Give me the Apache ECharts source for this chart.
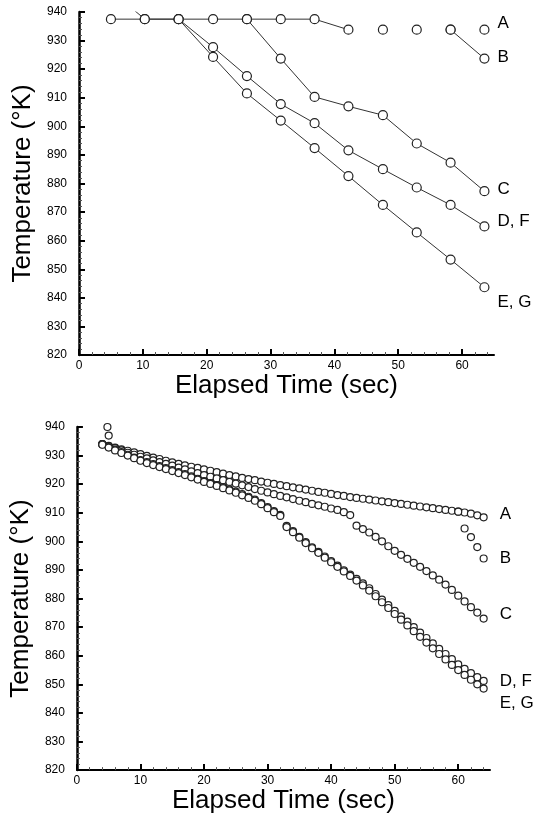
<!DOCTYPE html>
<html>
<head>
<meta charset="utf-8">
<script src="https://cdn.jsdelivr.net/npm/echarts@6/dist/echarts.min.js"></script>
<style>
html, body { margin: 0; padding: 0; background: #fff; }
#chart { width: 544px; height: 815px; }
</style>
</head>
<body>
<div id="chart"></div>
<script>
// top panel: one reading roughly every 5.3 s
const topTime = [5.0, 10.3, 15.6, 21.0, 26.3, 31.6, 36.9, 42.2, 47.6, 52.9, 58.2, 63.5]
const topA  = [937.5, 937.5, 937.5, 937.5, 937.5, 937.5, 937.5, 933.8, 933.8, 933.8, 933.8, 933.8]
const topB  = [937.5, 937.5, 937.5, 937.5, 937.5, 937.5, 937.5, 933.8, 933.8, 933.8, 933.8, 923.7]
const topC  = [937.5, 937.5, 937.5, 937.5, 937.5, 923.7, 910.3, 907.0, 903.9, 894.0, 887.3, 877.3]
const topDF = [937.5, 937.5, 937.5, 927.7, 917.6, 907.8, 901.1, 891.6, 885.0, 878.6, 872.5, 865.0]
const topEG = [947.5, 937.5, 937.5, 924.3, 911.5, 902.0, 892.4, 882.6, 872.5, 862.9, 853.4, 843.7]

// bottom panel: one reading per second, 4..64 s
const botTime = [4, 5, 6, 7, 8, 9, 10, 11, 12, 13, 14, 15, 16, 17, 18, 19, 20, 21, 22, 23, 24,
    25, 26, 27, 28, 29, 30, 31, 32, 33, 34, 35, 36, 37, 38, 39, 40, 41, 42, 43, 44,
    45, 46, 47, 48, 49, 50, 51, 52, 53, 54, 55, 56, 57, 58, 59, 60, 61, 62, 63, 64]
const botA = [934.0, 933.4, 932.8, 932.2, 931.7, 931.1, 930.5, 929.9, 929.3, 928.8, 928.2,
    927.6, 927.1, 926.6, 926.1, 925.7, 925.2, 924.7, 924.2, 923.7, 923.2,
    922.7, 922.2, 921.8, 921.4, 920.9, 920.5, 920.1, 919.7, 919.3, 918.9,
    918.5, 918.1, 917.7, 917.3, 917.0, 916.6, 916.2, 915.9, 915.5, 915.2,
    914.9, 914.6, 914.3, 914.0, 913.7, 913.4, 913.1, 912.8, 912.5, 912.2,
    911.9, 911.6, 911.3, 911.0, 910.7, 910.4, 910.1, 909.7, 909.1, 908.4]
const botC = [934.0, 933.3, 932.6, 931.8, 931.0, 930.3, 929.6, 929.0, 928.3, 927.7, 927.1,
    926.5, 925.8, 925.2, 924.5, 923.9, 923.2, 922.6, 922.0, 921.4, 920.8,
    920.2, 919.6, 919.0, 918.3, 917.7, 917.1, 916.5, 915.9, 915.4, 914.8,
    914.2, 913.7, 913.1, 912.6, 912.1, 911.5, 911.0, 910.2, 909.2, 905.5,
    904.3, 903.1, 901.6, 900.0, 898.3, 896.7, 895.3, 893.9, 892.5, 891.1,
    889.6, 888.1, 886.6, 884.9, 883.0, 881.0, 879.0, 877.0, 875.1, 873.0]
const botDF = [934.0, 933.0, 932.1, 931.2, 930.3, 929.3, 928.4, 927.7, 927.0, 926.3, 925.6,
    924.9, 924.2, 923.5, 922.7, 921.9, 921.1, 920.4, 919.7, 919.0, 918.2,
    917.4, 916.5, 915.6, 914.6, 913.4, 912.0, 910.6, 909.3, 905.4, 903.6,
    901.6, 899.7, 897.9, 896.3, 894.7, 893.1, 891.5, 889.9, 888.4, 886.9,
    885.3, 883.6, 881.6, 879.6, 877.7, 875.7, 873.8, 871.9, 870.0, 868.1,
    866.2, 864.3, 862.4, 860.6, 858.8, 857.0, 855.4, 853.9, 852.5, 851.2]
const botEG = [933.8, 932.8, 931.8, 930.9, 930.0, 929.1, 928.2, 927.4, 926.7, 926.0, 925.3,
    924.6, 923.9, 923.2, 922.4, 921.6, 920.8, 920.1, 919.4, 918.6, 917.8,
    917.0, 916.1, 915.2, 914.2, 913.0, 911.6, 910.2, 908.9, 905.0, 903.2,
    901.3, 899.4, 897.6, 896.0, 894.3, 892.7, 891.1, 889.5, 887.9, 886.3,
    884.6, 882.8, 880.8, 878.7, 876.7, 874.6, 872.6, 870.6, 868.6, 866.6,
    864.6, 862.6, 860.6, 858.7, 856.8, 855.0, 853.3, 851.6, 850.0, 848.5]
// B only where it leaves A (start and the last seconds)
const botBTime = [4.8, 5.0, 60, 61, 62, 63, 64]
const botB = [940.0, 937.0, 910.4, 904.5, 901.5, 898.0, 894.0]

const xTicks = [0, 10, 20, 30, 40, 50, 60]

const FONT = '"Liberation Sans", Arial, sans-serif'

function pairs(xs, ys, from, to) {
    let out = []
    for (let i = from; i <= to; i++) out.push([xs[i], ys[i]])
    return out
}

// put a text label on the last point of a data list
function tagLast(data, text, dist, dy) {
    let last = data[data.length - 1]
    data[data.length - 1] = {
        value: last,
        label: {
            show: true, formatter: text, position: 'right', distance: dist, offset: [0, dy],
            color: '#000', opacity: 1, fontSize: 17, fontFamily: FONT
        }
    }
    return data
}

function xAxisOf(idx, gap) {
    return {
        gridIndex: idx, type: 'value', min: 0, max: 65,
        name: 'Elapsed Time (sec)', nameLocation: 'middle', nameGap: gap,
        nameTextStyle: { fontSize: 26, color: '#000', fontFamily: FONT },
        axisLine: { onZero: false, lineStyle: { color: '#000', width: 2 } },
        axisTick: { inside: true, length: 6, customValues: xTicks, lineStyle: { color: '#000', width: 2 } },
        minorTick: { show: true, splitNumber: 5, length: 3, lineStyle: { color: '#555', width: 1 } },
        axisLabel: { customValues: xTicks, margin: 5, fontSize: 12, color: '#000', fontFamily: FONT },
        splitLine: { show: false }
    }
}

function yAxisOf(idx) {
    return {
        gridIndex: idx, type: 'value', min: 820, max: 940, interval: 10,
        name: 'Temperature (°K)', nameLocation: 'middle', nameRotate: 90, nameGap: 37,
        nameTextStyle: { fontSize: 26, color: '#000', fontFamily: FONT },
        axisLine: { show: true, onZero: false, lineStyle: { color: '#000', width: 2.5 } },
        axisTick: { show: true, inside: true, length: 6, lineStyle: { color: '#000', width: 2 } },
        minorTick: { show: true, splitNumber: 5, length: 3, lineStyle: { color: '#555', width: 1 } },
        axisLabel: { margin: 12, fontSize: 12, color: '#000', fontFamily: FONT },
        splitLine: { show: false }
    }
}

const circleStyle = { color: '#fff', borderColor: '#222', borderWidth: 1.2, opacity: 1 }

const lineCommon = {
    type: 'line', xAxisIndex: 0, yAxisIndex: 0, symbol: 'circle', symbolSize: 9,
    lineStyle: { color: '#333', width: 1 },
    itemStyle: circleStyle,
    z: 3
}
const dotsTop = {
    type: 'scatter', xAxisIndex: 0, yAxisIndex: 0, symbol: 'circle', symbolSize: 9,
    itemStyle: circleStyle,
    z: 4
}
const dotsBottom = {
    type: 'scatter', xAxisIndex: 1, yAxisIndex: 1, symbol: 'circle', symbolSize: 7,
    itemStyle: circleStyle,
    z: 4
}

let option = {
    animation: false,
    backgroundColor: '#fff',
    grid: [
        { left: 79, right: 50, top: 12, bottom: 460 },
        { left: 75, right: 54, top: 427, bottom: 44 }
    ],
    xAxis: [xAxisOf(0, 17), xAxisOf(1, 14)],
    yAxis: [yAxisOf(0), yAxisOf(1)],
    series: [
        Object.assign({}, lineCommon, { name: 'A', data: pairs(topTime, topA, 0, 7) }),
        Object.assign({}, dotsTop, { name: 'A pts', data: tagLast(pairs(topTime, topA, 8, 11), 'A', 8, -6) }),
        Object.assign({}, lineCommon, { name: 'B', data: tagLast(pairs(topTime, topB, 10, 11), 'B', 8, -1) }),
        Object.assign({}, lineCommon, { name: 'C', data: tagLast(pairs(topTime, topC, 4, 11), 'C', 8, -2) }),
        Object.assign({}, lineCommon, { name: 'D, F', data: tagLast(pairs(topTime, topDF, 2, 11), 'D, F', 8, -5) }),
        Object.assign({}, lineCommon, { name: 'E, G', data: tagLast(pairs(topTime, topEG, 0, 11), 'E, G', 8, 15) }),

        Object.assign({}, dotsBottom, { name: 'A2', data: tagLast(pairs(botTime, botA, 0, 60), 'A', 12, -3) }),
        Object.assign({}, dotsBottom, { name: 'B2', data: tagLast(pairs(botBTime, botB, 0, 6), 'B', 12, 0) }),
        Object.assign({}, dotsBottom, { name: 'C2', data: tagLast(pairs(botTime, botC, 0, 60), 'C', 12, -4) }),
        Object.assign({}, dotsBottom, { name: 'DF2', data: tagLast(pairs(botTime, botDF, 0, 60), 'D, F', 12, 0) }),
        Object.assign({}, dotsBottom, { name: 'EG2', data: tagLast(pairs(botTime, botEG, 0, 60), 'E, G', 12, 15) })
    ]
}

let myChart = echarts.init(document.getElementById('chart'))
myChart.setOption(option)
</script>
</body>
</html>
